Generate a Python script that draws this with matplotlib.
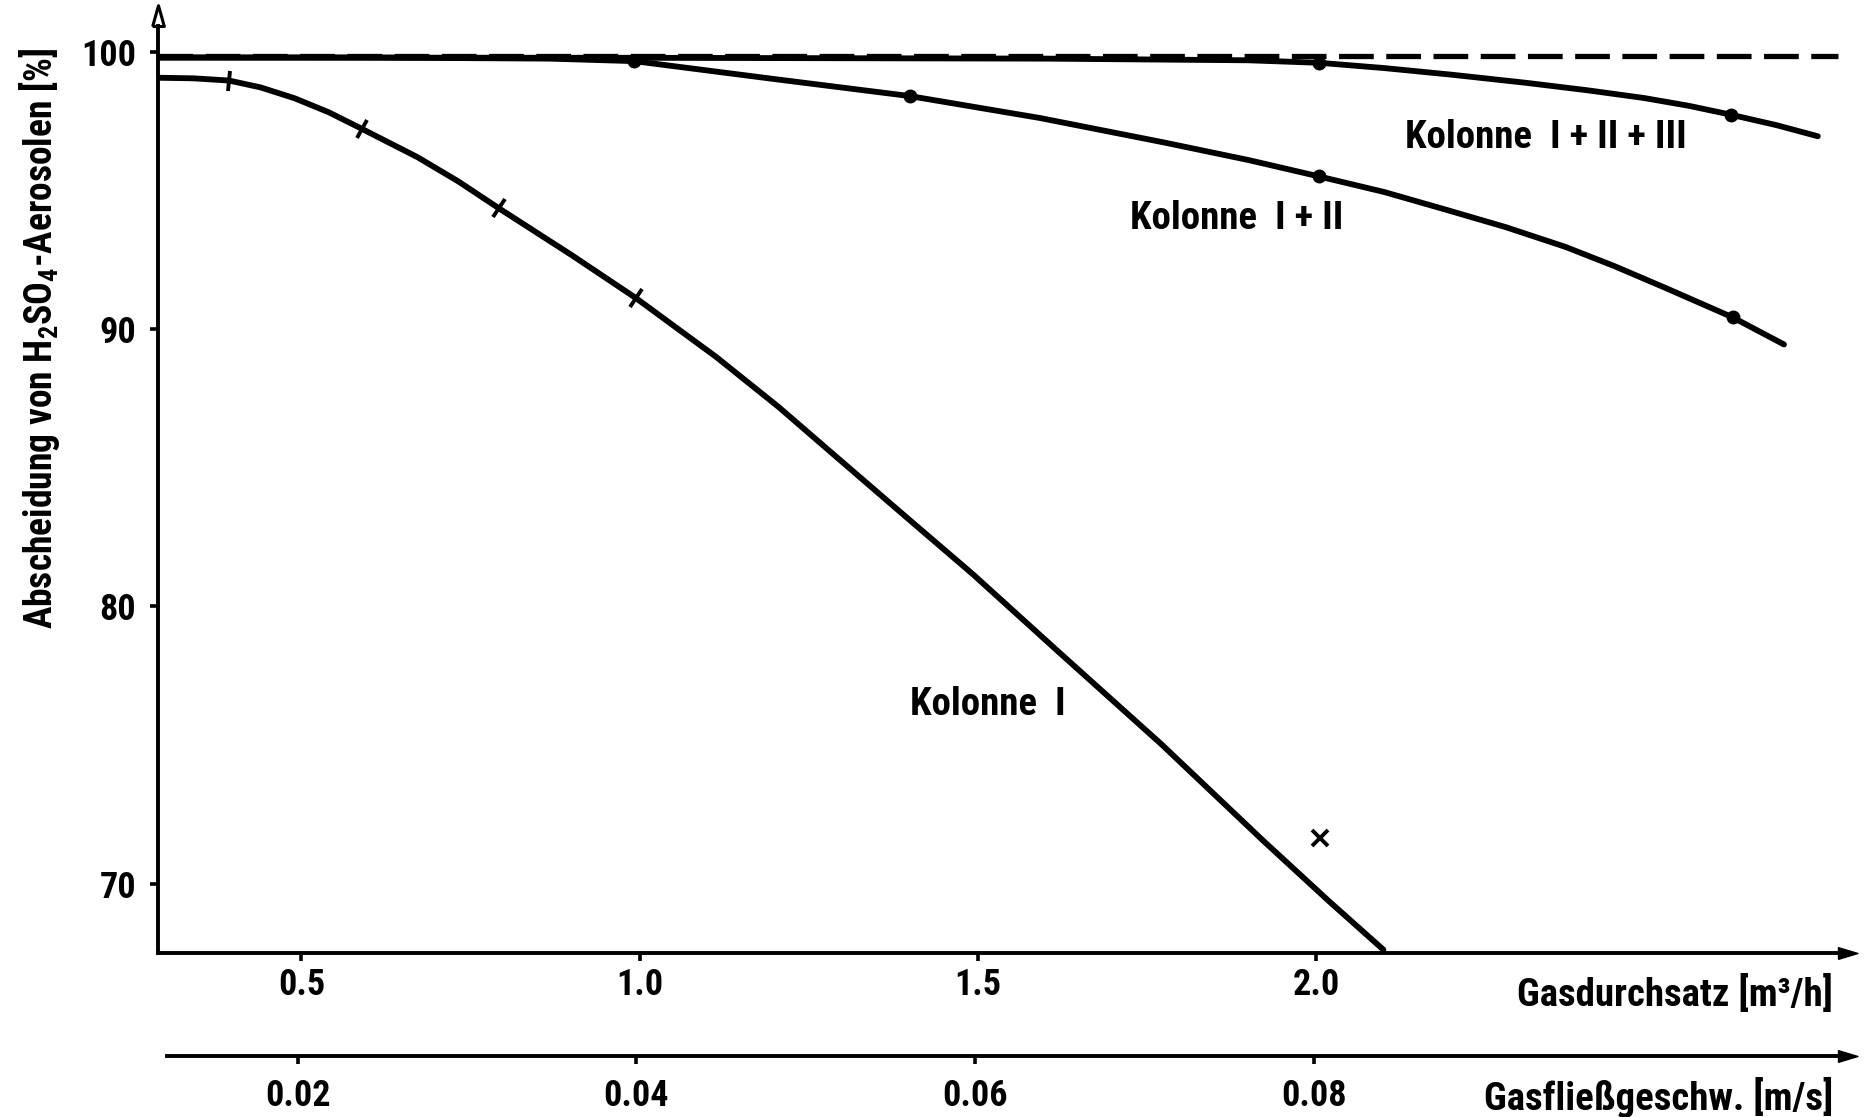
import matplotlib
matplotlib.use('Agg')
import matplotlib.pyplot as plt
import numpy as np
from matplotlib import font_manager as fm
from matplotlib.markers import MarkerStyle
from matplotlib.transforms import Affine2D

# Kolonne I  (Gasdurchsatz m3/h -> Abscheidung %)
q_k1 = [0.289, 0.34, 0.393, 0.44, 0.49, 0.54, 0.590, 0.672, 0.732, 0.792, 0.899, 0.994,
        1.113, 1.205, 1.288, 1.394, 1.492, 1.620, 1.771, 1.921, 2.019, 2.099]
a_k1 = [99.07, 99.05, 98.97, 98.72, 98.33, 97.83, 97.22, 96.20, 95.33, 94.36, 92.68, 91.13,
        89.00, 87.20, 85.45, 83.22, 81.17, 78.34, 75.03, 71.56, 69.36, 67.62]
q_k1_pts = [0.393, 0.590, 0.792, 0.994]
a_k1_pts = [98.97, 97.22, 94.36, 91.13]
q_k1_x = [2.006]
a_k1_x = [71.64]

# Kolonne I + II
q_k12 = [0.289, 0.6, 0.867, 0.992, 1.2, 1.399, 1.591, 1.772, 1.9, 2.004, 2.10, 2.193,
         2.28, 2.368, 2.44, 2.513, 2.615, 2.691]
a_k12 = [99.80, 99.80, 99.76, 99.67, 99.02, 98.41, 97.62, 96.75, 96.10, 95.51, 94.95, 94.30,
         93.68, 92.97, 92.28, 91.52, 90.43, 89.45]
q_k12_pts = [0.992, 1.399, 2.004, 2.615]
a_k12_pts = [99.67, 98.41, 95.51, 90.43]

# Kolonne I + II + III
q_k123 = [0.289, 1.0, 1.6, 1.9, 2.004, 2.10, 2.20, 2.309, 2.40, 2.484, 2.55, 2.612,
          2.68, 2.741]
a_k123 = [99.80, 99.79, 99.76, 99.70, 99.61, 99.42, 99.18, 98.89, 98.62, 98.34, 98.06, 97.74,
          97.36, 96.96]
q_k123_pts = [2.004, 2.612]
a_k123_pts = [99.61, 97.74]

limit_100 = 99.86

q_ticks = [0.5, 1.0, 1.5, 2.0]
v_ticks = [0.02, 0.04, 0.06, 0.08]
y_ticks = [70, 80, 90, 100]

# narrow bold font if one is there
installed = sorted({f.name for f in fm.fontManager.ttflist})
wanted = ['Liberation Sans Narrow', 'DejaVu Sans Condensed', 'Roboto Condensed',
          'Open Sans Condensed', 'Noto Sans Condensed']
narrow = [n for n in wanted if n in installed]
narrow += [n for n in installed if ('Narrow' in n or 'Condensed' in n) and n not in narrow]
fam = narrow[0] if narrow else 'Liberation Sans'

plt.rcParams['font.family'] = [fam, 'DejaVu Sans']
plt.rcParams['font.weight'] = 'bold'
plt.rcParams['mathtext.fontset'] = 'custom'
plt.rcParams['mathtext.rm'] = fam + ':bold'
plt.rcParams['mathtext.default'] = 'rm'
plt.rcParams['lines.scale_dashes'] = False

fs = 26
lw = 4.2

fig = plt.figure(figsize=(18.68, 11.17), dpi=100)
ax = fig.add_axes([0.0848, 0.1468, 0.8991, 0.8300])
ax.set_xlim(0.2887, 2.7707)
ax.set_ylim(67.5, 100.94)

for s in ['top', 'right']:
    ax.spines[s].set_visible(False)
for s in ['left', 'bottom']:
    ax.spines[s].set_linewidth(2.8)

ax.set_xticks(q_ticks, labels=[f'{t:.1f}' for t in q_ticks])
ax.set_yticks(y_ticks, labels=[str(t) for t in y_ticks])
ax.tick_params(axis='x', direction='out', length=6, width=2.6, pad=4, labelsize=fs)
ax.tick_params(axis='y', direction='out', length=6, width=2.6, pad=10, labelsize=fs)

# arrows at the axis ends
up = [(-0.28, 0), (0, 1), (0.28, 0), (-0.28, 0)]
right = [(0, -0.3), (1, 0), (0, 0.3), (0, -0.3)]
ax.plot(0, 1, marker=up, ms=30, mfc='white', mec='k', mew=2.2,
        transform=ax.transAxes, clip_on=False)
ax.plot(1, 0, marker=right, ms=28, mfc='k', mec='k', mew=1,
        transform=ax.transAxes, clip_on=False)

# 100 % line
ax.plot([0.2887, 2.7707], [limit_100, limit_100], color='k', lw=3.8,
        dashes=(25, 9), solid_capstyle='butt', clip_on=False)

ax.plot(q_k123, a_k123, color='k', lw=lw, solid_capstyle='round', solid_joinstyle='round')
ax.plot(q_k12, a_k12, color='k', lw=lw, solid_capstyle='round', solid_joinstyle='round')
ax.plot(q_k1, a_k1, color='k', lw=lw, solid_capstyle='round', solid_joinstyle='round')

ax.plot(q_k12_pts, a_k12_pts, 'o', color='k', ms=9)
ax.plot(q_k123_pts, a_k123_pts, 'o', color='k', ms=9)
ax.plot(q_k1_x, a_k1_x, 'x', color='k', ms=12, mew=2.8)

# short strokes across Kolonne I at the measured points
for q, a in zip(q_k1_pts, a_k1_pts):
    p1 = ax.transData.transform((q - 0.03, np.interp(q - 0.03, q_k1, a_k1)))
    p2 = ax.transData.transform((q + 0.03, np.interp(q + 0.03, q_k1, a_k1)))
    phi = np.degrees(np.arctan2(p2[1] - p1[1], p2[0] - p1[0]))
    ax.plot(q, a, marker=MarkerStyle('|', transform=Affine2D().rotate_deg(phi)),
            ms=15, mew=2.8, color='k')

ax.text(1.514, 76.45, 'Kolonne  I', fontsize=fs + 2, ha='center', va='center')
ax.text(1.882, 94.0, 'Kolonne  I + II', fontsize=fs + 2, ha='center', va='center')
ax.text(2.339, 96.9, 'Kolonne  I + II + III', fontsize=fs + 2, ha='center', va='center')

# second scale: gas velocity
ax2 = fig.add_axes([0.0894, 0.0546, 0.8945, 0.01])
ax2.set_xlim(0.01228, 0.11094)
ax2.patch.set_visible(False)
for s in ['top', 'right', 'left']:
    ax2.spines[s].set_visible(False)
ax2.spines['bottom'].set_linewidth(2.8)
ax2.set_yticks([])
ax2.set_xticks(v_ticks, labels=[f'{t:.2f}' for t in v_ticks])
ax2.tick_params(axis='x', direction='out', length=6, width=2.6, pad=10, labelsize=fs)
ax2.plot(1, 0, marker=right, ms=28, mfc='k', mec='k', mew=1,
         transform=ax2.transAxes, clip_on=False)

fig.text(1833 / 1868, 1 - 995 / 1117, 'Gasdurchsatz [m³/h]', fontsize=fs + 2,
         ha='right', va='center')
fig.text(1833 / 1868, 1 - 1098 / 1117, 'Gasfließgeschw. [m/s]', fontsize=fs + 2,
         ha='right', va='center')
fig.text(40 / 1868, 1 - 338 / 1117, 'Abscheidung von H$_2$SO$_4$-Aerosolen [%]',
         fontsize=fs + 1, rotation=90, ha='center', va='center')

fig.savefig('out.png', dpi=100)
